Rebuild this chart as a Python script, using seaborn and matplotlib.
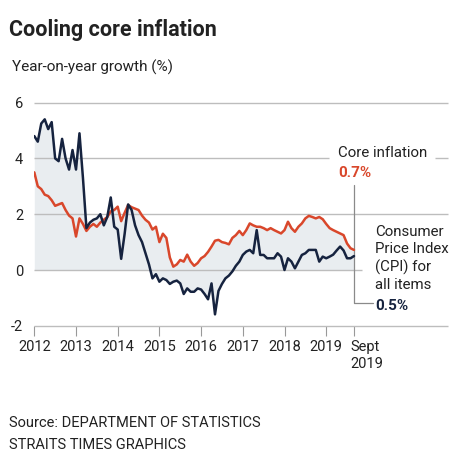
import numpy as np
import pandas as pd
import matplotlib
matplotlib.use("Agg")
import matplotlib.pyplot as plt
import matplotlib.transforms as mtransforms
import seaborn as sns

# ---- data (monthly, Jan 2012 - Sep 2019) ----
start_year = 2012
core = [3.5, 3.0, 2.9, 2.7, 2.65, 2.5, 2.3, 2.35, 2.4, 2.15, 1.95, 1.85,
        1.2, 1.85, 1.65, 1.4, 1.55, 1.65, 1.55, 1.7, 1.8, 1.9, 2.1, 2.15,
        2.27, 1.75, 2.05, 2.33, 2.25, 2.2, 2.15, 1.95, 1.8, 1.7, 1.45, 1.55,
        1.0, 1.3, 1.15, 0.45, 0.12, 0.2, 0.36, 0.3, 0.55, 0.3, 0.15, 0.25,
        0.42, 0.5, 0.65, 0.84, 1.05, 1.08, 1.0, 0.97, 0.92, 1.15, 1.25, 1.4,
        1.25, 1.43, 1.67, 1.6, 1.55, 1.55, 1.5, 1.43, 1.5, 1.43, 1.37, 1.31,
        1.43, 1.73, 1.5, 1.37, 1.55, 1.67, 1.85, 1.94, 1.9, 1.85, 1.9, 1.82,
        1.65, 1.5, 1.43, 1.37, 1.31, 1.25, 0.95, 0.78, 0.72]
cpi = [4.8, 4.6, 5.25, 5.4, 5.05, 5.3, 4.0, 3.9, 4.7, 4.0, 3.6, 4.3,
       3.6, 4.9, 3.3, 1.5, 1.7, 1.8, 1.85, 2.0, 1.6, 1.9, 2.6, 1.55,
       1.45, 0.4, 1.3, 2.35, 2.15, 1.6, 1.25, 1.0, 0.6, 0.2, -0.3, -0.15,
       -0.42, -0.3, -0.36, -0.5, -0.42, -0.38, -0.48, -0.86, -0.66, -0.78, -0.78, -0.66,
       -0.7, -0.86, -1.05, -0.48, -1.59, -0.75, -0.5, -0.3, -0.2, -0.05, 0.15, 0.3,
       0.54, 0.66, 0.72, 0.6, 1.43, 0.54, 0.54, 0.42, 0.42, 0.42, 0.6, 0.48,
       0.0, 0.42, 0.3, 0.06, 0.3, 0.54, 0.6, 0.72, 0.72, 0.72, 0.3, 0.48,
       0.42, 0.48, 0.55, 0.7, 0.84, 0.7, 0.42, 0.42, 0.5]
year_ticks = [2012, 2013, 2014, 2015, 2016, 2017, 2018, 2019]
year_labels = ["2012", "2013", "2014", "2015", "2016", "2017", "2018", "2019"]
last_label = "Sept\n2019"
y_ticks = [-2, 0, 2, 4, 6]
y_labels = ["-2", "0", "2", "4", "6"]

n = len(core)
t = start_year + np.arange(n) / 12.0
df = pd.DataFrame({"t": t, "core": core, "cpi": cpi})

RED = "#d9472b"
NAVY = "#16233f"
GRID = "#bdbdbd"
FILL = "#e9edf0"
TXT = "#222222"

sns.set_theme(style="white")
plt.rcParams["font.family"] = ["Roboto", "DejaVu Sans"]

W, H = 460, 468
fig = plt.figure(figsize=(W / 100, H / 100), dpi=100)
x0, x1 = 34.3, 448.0
ytop, ybot = 102.6, 325.8
ax = fig.add_axes([x0 / W, (H - ybot) / H, (x1 - x0) / W, (ybot - ytop) / H])
xmax = 2012 + (x1 - x0) / 41.7
ax.set_xlim(2012, xmax)
ax.set_ylim(-2, 6)
for s in ax.spines.values():
    s.set_visible(False)

def px2x(px):
    return 2012 + (px - x0) / 41.7

def px2y(py):
    return (270 - py) / 27.9

# gridlines
for yv in y_ticks:
    if yv == 4:
        ax.hlines(yv, 2012, px2x(329), color=GRID, lw=1, clip_on=False, zorder=1)
        ax.hlines(yv, px2x(435), xmax, color=GRID, lw=1, clip_on=False, zorder=1)
    elif yv == 0:
        ax.hlines(yv, 2012, px2x(362), color=GRID, lw=1, clip_on=False, zorder=1)
    else:
        ax.hlines(yv, 2012, xmax, color=GRID, lw=1, clip_on=False, zorder=1)

# shaded area
arr = np.vstack([np.zeros(n), df["core"].values, df["cpi"].values])
ax.fill_between(df["t"], arr.min(axis=0), arr.max(axis=0), color=FILL, lw=0, zorder=0)

sns.lineplot(data=df, x="t", y="core", color=RED, lw=1.8, ax=ax, zorder=3)
sns.lineplot(data=df, x="t", y="cpi", color=NAVY, lw=1.8, ax=ax, zorder=4)
ax.set_xlabel("")
ax.set_ylabel("")

# ticks
ax.set_xticks(year_ticks + [t[-1]])
ax.set_xticklabels(year_labels + [last_label], fontsize=10.5, color=TXT)
ax.tick_params(axis="x", length=7, width=0.8, color="#999999", pad=3, bottom=True)
lbl = ax.get_xticklabels()[-1]
lbl.set_ha("left")
lbl.set_linespacing(1.3)
lbl.set_transform(lbl.get_transform() + mtransforms.ScaledTranslation(-4 / 100, 0, fig.dpi_scale_trans))
ax.set_yticks(y_ticks)
ax.set_yticklabels(y_labels, fontsize=10.5, color=TXT)
ax.tick_params(axis="y", length=0, pad=8)

# connector lines
xe = t[-1]
ax.plot([xe, xe, px2x(373)], [px2y(185), px2y(303), px2y(303)], color="#8a8a8a", lw=0.9,
        clip_on=False, zorder=2)

# annotations
def ftxt(px, py, s, **kw):
    fig.text(px / W, 1 - py / H, s, va="center", ha="left", **kw)

ftxt(338, 153, "Core inflation", fontsize=10.8, color=TXT)
ftxt(338, 173, "0.7%", fontsize=11, color=RED, fontweight="bold")
ftxt(375, 258.5, "Consumer\nPrice Index\n(CPI) for\nall items", fontsize=10.8, color=TXT,
     linespacing=1.3)
ftxt(375, 306, "0.5%", fontsize=11, color=NAVY, fontweight="bold")

ftxt(9, 30, "Cooling core inflation", fontsize=15.5, color=TXT, fontweight="bold")
ftxt(12, 67, "Year-on-year growth (%)", fontsize=11, color=TXT)
ftxt(9, 423, "Source: DEPARTMENT OF STATISTICS", fontsize=10.5, color=TXT)
ftxt(9, 445, "STRAITS TIMES GRAPHICS", fontsize=10.5, color=TXT)

fig.savefig("out.png", dpi=100, facecolor="white")
